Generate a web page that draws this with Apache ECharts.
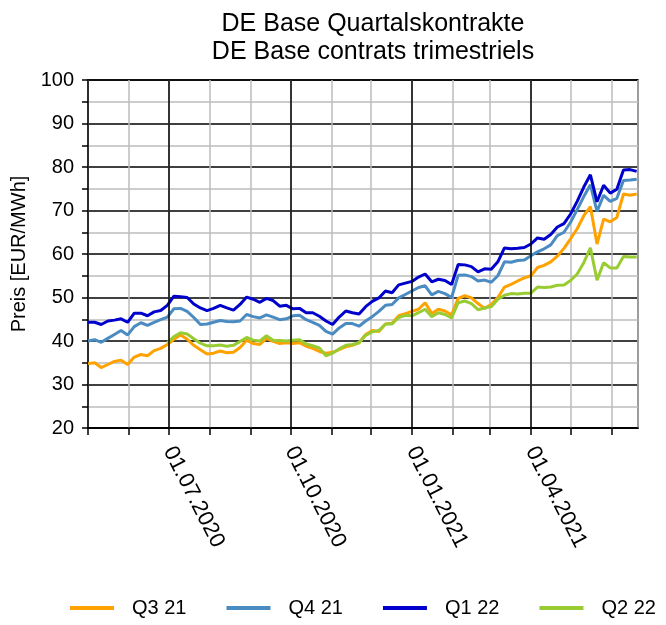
<!DOCTYPE html>
<html>
<head>
<meta charset="utf-8">
<script src="https://cdn.jsdelivr.net/npm/echarts@6/dist/echarts.min.js"></script>
<style>
  html, body { margin: 0; padding: 0; background: #fff; }
  #main { width: 666px; height: 625px; }
</style>
</head>
<body>
<div id="main"></div>
<script>
// sampling grid: one reading every 5 days from 01.05.2020
var startYear = 2020, startMonth = 4, startDate = 1, stepDays = 5;

var q3_21 = [34.8, 35.0, 33.9, 34.6, 35.3, 35.6, 34.6, 36.3, 36.9, 36.6,
             37.8, 38.3, 39.2, 40.4, 41.4, 40.4, 39.0, 38.0, 37.0, 37.2,
             37.7, 37.3, 37.4, 38.5, 40.2, 39.4, 39.2, 40.6, 39.9, 39.4,
             39.6, 39.4, 39.6, 38.8, 38.3, 37.6, 37.2, 37.4, 38.0, 38.7,
             39.0, 39.6, 41.5, 42.4, 42.2, 43.9, 44.1, 45.8, 46.3, 46.8,
             47.3, 48.8, 46.3, 47.3, 46.9, 46.0, 49.8, 50.4, 49.9, 48.6,
             47.5, 48.4, 50.0, 52.4, 53.0, 53.8, 54.5, 55.0, 56.9, 57.4,
             58.2, 59.5, 61.3, 63.5, 65.8, 68.8, 70.9, 62.3, 68.0, 67.4,
             68.4, 73.8, 73.5, 73.8];

var q4_21 = [40.0, 40.3, 39.7, 40.6, 41.5, 42.4, 41.4, 43.3, 44.2, 43.6,
             44.3, 44.9, 45.5, 47.4, 47.5, 46.8, 45.4, 43.8, 43.9, 44.3,
             44.7, 44.5, 44.4, 44.6, 46.1, 45.6, 45.3, 46.0, 45.5, 44.9,
             45.1, 45.8, 45.9, 44.9, 44.3, 43.6, 42.2, 41.6, 43.0, 44.0,
             44.0, 43.4, 44.6, 45.6, 46.8, 48.2, 48.4, 49.9, 50.7, 51.5,
             52.3, 52.7, 50.6, 51.4, 50.9, 50.0, 55.1, 55.2, 54.8, 53.8,
             54.0, 53.5, 55.0, 58.2, 58.1, 58.5, 58.6, 59.6, 60.5, 61.2,
             62.1, 64.2, 65.0, 67.3, 70.2, 73.2, 75.9, 69.8, 73.5, 72.1,
             72.8, 76.9, 77.0, 77.2];

var q1_22 = [44.3, 44.3, 43.8, 44.6, 44.8, 45.1, 44.3, 46.4, 46.4, 45.8,
             46.7, 47.0, 48.2, 50.3, 50.2, 50.0, 48.5, 47.6, 47.0, 47.5,
             48.2, 47.6, 47.1, 48.4, 50.1, 49.6, 48.9, 49.8, 49.3, 48.0,
             48.2, 47.4, 47.5, 46.5, 46.5, 45.7, 44.6, 43.8, 45.5, 46.9,
             46.5, 46.2, 47.9, 49.1, 49.9, 51.5, 51.1, 52.9, 53.3, 53.7,
             54.7, 55.4, 53.6, 54.2, 53.9, 53.0, 57.6, 57.5, 57.1, 55.9,
             56.6, 56.5, 58.2, 61.4, 61.2, 61.3, 61.5, 62.3, 63.7, 63.4,
             64.5, 66.2, 67.0, 69.2, 72.1, 75.4, 78.2, 72.0, 75.8, 74.0,
             74.9, 79.3, 79.4, 79.0];

var q2_22 = [null, null, null, null, null, null, null, null, null, null,
             null, null, 39.6, 41.0, 41.9, 41.6, 40.5, 39.5, 38.9, 38.9,
             39.1, 38.8, 39.0, 39.9, 40.8, 40.2, 40.0, 41.2, 40.2, 40.1,
             40.0, 40.2, 40.3, 39.3, 38.9, 38.4, 36.6, 37.2, 38.2, 39.0,
             39.2, 39.6, 41.3, 42.1, 42.4, 43.9, 43.9, 45.4, 45.9, 45.8,
             46.5, 47.3, 45.6, 46.5, 46.1, 45.3, 48.8, 49.2, 48.6, 47.2,
             47.6, 47.9, 49.6, 50.5, 50.9, 50.8, 51.0, 51.0, 52.4, 52.3,
             52.4, 52.8, 52.9, 53.9, 55.4, 58.0, 61.4, 54.0, 58.0, 56.8,
             56.8, 59.4, 59.3, 59.3];

var seriesNames = ['Q3 21', 'Q4 21', 'Q1 22', 'Q2 22'];
var seriesColors = ['#ffa200', '#4a8bc2', '#0000cc', '#99cc33'];
var quarterStarts = ['2020-07-01', '2020-10-01', '2021-01-01', '2021-04-01'];

function pad(n) { return n < 10 ? '0' + n : '' + n; }
function isoDate(d) { return d.getFullYear() + '-' + pad(d.getMonth() + 1) + '-' + pad(d.getDate()); }

var dates = [];
for (var i = 0; i < q1_22.length; i++) {
    dates.push(isoDate(new Date(startYear, startMonth, startDate + i * stepDays)));
}

function pairs(values) {
    return values.map(function (v, i) { return [dates[i], v]; });
}

var font = 'Liberation Sans, Arial, sans-serif';
var chart = echarts.init(document.getElementById('main'));

var allValues = [q3_21, q4_21, q1_22, q2_22];
var series = allValues.map(function (vals, i) {
    return {
        name: seriesNames[i],
        type: 'line',
        data: pairs(vals),
        symbol: 'none',
        connectNulls: false,
        z: 3,
        lineStyle: { color: seriesColors[i], width: 3 },
        itemStyle: { color: seriesColors[i] }
    };
});
// black quarter grid lines
series.push({
    type: 'line',
    data: [],
    silent: true,
    z: 1,
    markLine: {
        silent: true,
        symbol: 'none',
        label: { show: false },
        lineStyle: { color: '#000', width: 1.5, type: 'solid' },
        data: quarterStarts.map(function (q) { return { xAxis: q }; })
    }
});

chart.setOption({
    animation: false,
    textStyle: { fontFamily: font },
    title: {
        text: 'DE Base Quartalskontrakte\nDE Base contrats trimestriels',
        left: 368,
        textAlign: 'center',
        top: 5,
        textStyle: { fontSize: 25, fontWeight: 'normal', color: '#000', lineHeight: 28, fontFamily: font }
    },
    legend: {
        data: seriesNames,
        left: 70,
        width: 596,
        top: 598,
        padding: 0,
        icon: 'rect',
        itemWidth: 44,
        itemHeight: 4,
        itemGap: 40,
        textStyle: { fontSize: 20, color: '#000', padding: [0, 0, 0, 13], fontFamily: font }
    },
    grid: {
        left: 88,
        right: 28,
        top: 80,
        bottom: 197,
        show: true,
        borderColor: '#000',
        borderWidth: 1.5,
        backgroundColor: '#fff'
    },
    xAxis: {
        type: 'time',
        min: '2020-05-01',
        max: '2021-06-21',
        splitNumber: 14,
        minInterval: 28 * 86400000,
        maxInterval: 31 * 86400000,
        axisLine: { lineStyle: { color: '#000', width: 1.5 } },
        axisTick: { show: true, length: 7, lineStyle: { color: '#000', width: 1.5 } },
        splitLine: { show: true, lineStyle: { color: '#bdbdbd', width: 1.5 } },
        axisLabel: {
            rotate: -63,
            margin: 20,
            fontSize: 22,
            color: '#000',
            fontFamily: font,
            hideOverlap: false,
            formatter: function (value) {
                var d = new Date(value);
                var s = isoDate(d);
                if (quarterStarts.indexOf(s) < 0) return '';
                return pad(d.getDate()) + '.' + pad(d.getMonth() + 1) + '.' + d.getFullYear();
            }
        }
    },
    yAxis: {
        type: 'value',
        min: 20,
        max: 100,
        interval: 10,
        name: 'Preis [EUR/MWh]',
        nameLocation: 'middle',
        nameGap: 58,
        nameTextStyle: { fontSize: 20, color: '#000', fontFamily: font },
        axisLine: { show: true, lineStyle: { color: '#000', width: 1.5 } },
        axisTick: { show: true, length: 6, lineStyle: { color: '#000', width: 1.5 } },
        minorTick: { show: true, splitNumber: 2, length: 6, lineStyle: { color: '#000', width: 1.5 } },
        axisLabel: { fontSize: 20, color: '#000', margin: 14, fontFamily: font },
        splitLine: { show: true, lineStyle: { color: '#000', width: 1.5 } },
        minorSplitLine: { show: true, lineStyle: { color: '#bdbdbd', width: 1.5 } }
    },
    series: series
});
</script>
</body>
</html>
